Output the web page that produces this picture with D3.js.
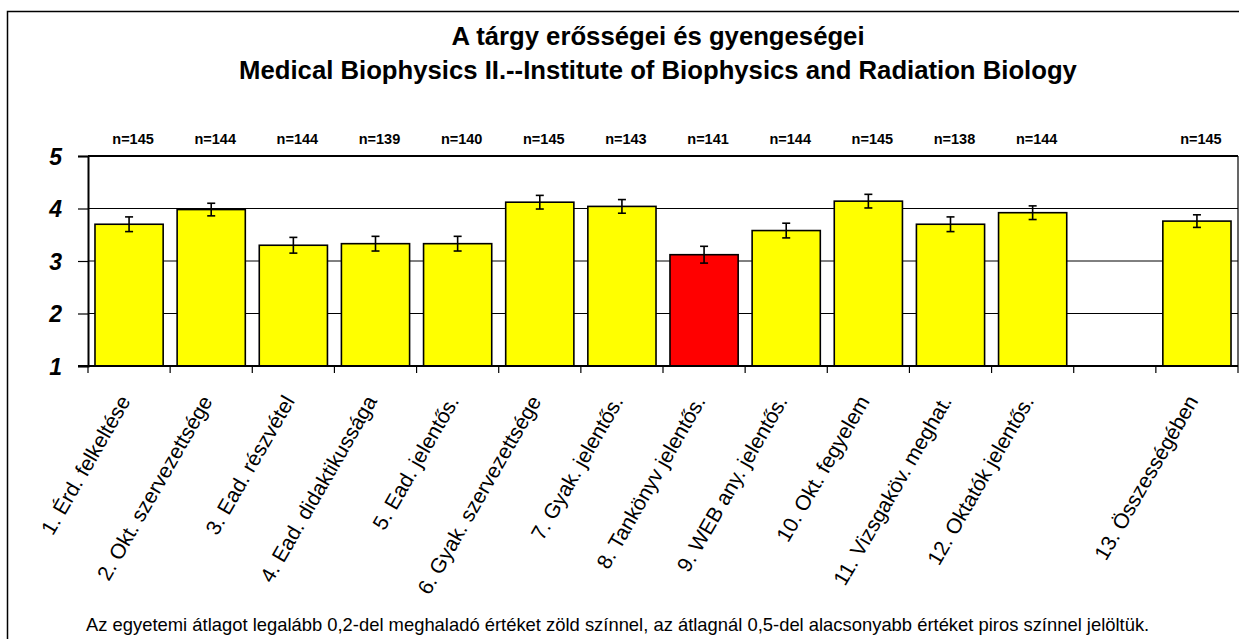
<!DOCTYPE html>
<html>
<head>
<meta charset="utf-8">
<script src="https://cdn.jsdelivr.net/npm/d3@7"></script>
<style>
  html, body { margin: 0; padding: 0; background: #fff; }
  svg { display: block; font-family: "Liberation Sans", Arial, sans-serif; }
</style>
</head>
<body>
<svg id="chart" width="1239" height="639"></svg>
<script>
// ---- data ----
const categories = [
  "1. Érd. felkeltése",
  "2. Okt. szervezettsége",
  "3. Ead. részvétel",
  "4. Ead. didaktikussága",
  "5. Ead. jelentős.",
  "6. Gyak. szervezettsége",
  "7. Gyak. jelentős.",
  "8. Tankönyv jelentős.",
  "9. WEB any. jelentős.",
  "10. Okt. fegyelem",
  "11. Vizsgaköv. meghat.",
  "12. Oktatók jelentős.",
  "",
  "13. Összességében"
];
const means  = [3.70, 3.98, 3.30, 3.33, 3.33, 4.12, 4.04, 3.12, 3.58, 4.14, 3.70, 3.92, null, 3.76];
const errors = [0.14, 0.12, 0.15, 0.14, 0.14, 0.13, 0.13, 0.16, 0.14, 0.13, 0.14, 0.13, null, 0.12];
const counts = [145, 144, 144, 139, 140, 145, 143, 141, 144, 145, 138, 144, null, 145];
const status = ["avg","avg","avg","avg","avg","avg","avg","low","avg","avg","avg","avg", null, "avg"];
const yTicks = [1, 2, 3, 4, 5];
const titleLines = [
  "A tárgy erősségei és gyengeségei",
  "Medical Biophysics II.--Institute of Biophysics and Radiation Biology"
];
const footnote = "Az egyetemi átlagot legalább 0,2-del meghaladó értéket zöld színnel, az átlagnál 0,5-del alacsonyabb értéket piros színnel jelöltük.";

// ---- layout ----
const svg = d3.select("#chart");
const plot = { left: 88, right: 1238, top: 156, bottom: 366 };
const statusColor = { avg: "#FFFF00", low: "#FF0000", high: "#00FF00" };

const x = d3.scaleBand()
  .domain(d3.range(categories.length))
  .range([plot.left, plot.right])
  .paddingInner(0.17)
  .paddingOuter(0.085);
const y = d3.scaleLinear().domain([1, 5]).range([plot.bottom, plot.top]);

// outer frame
svg.append("rect")
  .attr("x", 7.5).attr("y", 11.5)
  .attr("width", 1260).attr("height", 660)
  .attr("fill", "none").attr("stroke", "#000").attr("stroke-width", 1.5);

// title
svg.append("g").selectAll("text").data(titleLines).join("text")
  .attr("x", 658)
  .attr("y", (d, i) => 45 + i * 34)
  .attr("text-anchor", "middle")
  .attr("font-size", 25.7)
  .attr("font-weight", "bold")
  .text(d => d);

// gridlines
svg.append("g").selectAll("line").data(yTicks.filter(t => t > 1)).join("line")
  .attr("x1", plot.left).attr("x2", plot.right)
  .attr("y1", d => y(d)).attr("y2", d => y(d))
  .attr("stroke", "#000").attr("stroke-width", d => d === 5 ? 2 : 1);

// right border
svg.append("line")
  .attr("x1", plot.right).attr("x2", plot.right)
  .attr("y1", plot.top).attr("y2", plot.bottom)
  .attr("stroke", "#000").attr("stroke-width", 1.2);

// y axis
const yAxis = d3.axisLeft(y).tickValues(yTicks).tickSize(10).tickPadding(18).tickFormat(d3.format("d"));
const gy = svg.append("g").attr("transform", `translate(${plot.left},0)`).call(yAxis);
gy.select(".domain").attr("stroke", "#000").attr("stroke-width", 2);
gy.selectAll(".tick line").attr("stroke", "#000").attr("stroke-width", 1.2);
gy.selectAll(".tick text")
  .attr("font-family", "'Liberation Sans', Arial, sans-serif")
  .attr("font-size", 23).attr("font-weight", "bold").attr("font-style", "italic")
  .attr("fill", "#000").attr("dy", "0.36em").attr("x", -26);

// bars
const idx = d3.range(categories.length).filter(i => means[i] != null);
svg.append("g").selectAll("rect").data(idx).join("rect")
  .attr("x", i => x(i))
  .attr("y", i => y(means[i]))
  .attr("width", x.bandwidth())
  .attr("height", i => y(1) - y(means[i]))
  .attr("fill", i => statusColor[status[i]])
  .attr("stroke", "#000").attr("stroke-width", 1.6);

// x axis (bottom line + ticks at slot boundaries)
const step = x.step();
const boundaries = d3.range(categories.length + 1).map(k => plot.left + k * step);
svg.append("line")
  .attr("x1", plot.left - 10).attr("x2", plot.right)
  .attr("y1", plot.bottom).attr("y2", plot.bottom)
  .attr("stroke", "#000").attr("stroke-width", 2);
svg.append("g").selectAll("line").data(boundaries).join("line")
  .attr("x1", d => d).attr("x2", d => d)
  .attr("y1", plot.bottom).attr("y2", plot.bottom + 7)
  .attr("stroke", "#000").attr("stroke-width", 1.2);

// error bars
const eb = svg.append("g").attr("stroke", "#000").attr("stroke-width", 1.6);
idx.forEach(i => {
  const cx = x(i) + x.bandwidth() / 2;
  const lo = y(means[i] - errors[i]), hi = y(means[i] + errors[i]);
  eb.append("line").attr("x1", cx).attr("x2", cx).attr("y1", lo).attr("y2", hi);
  eb.append("line").attr("x1", cx - 4).attr("x2", cx + 4).attr("y1", lo).attr("y2", lo);
  eb.append("line").attr("x1", cx - 4).attr("x2", cx + 4).attr("y1", hi).attr("y2", hi);
});

// n labels
svg.append("g").selectAll("text").data(idx).join("text")
  .attr("x", i => x(i) + x.bandwidth() / 2 + 4)
  .attr("y", 144)
  .attr("text-anchor", "middle")
  .attr("font-size", 14.5).attr("font-weight", "bold")
  .text(i => "n=" + counts[i]);

// x labels
svg.append("g").selectAll("text").data(d3.range(categories.length)).join("text")
  .attr("transform", i => `translate(${x(i) + x.bandwidth() / 2 + 2},401) rotate(-60)`)
  .attr("text-anchor", "end")
  .attr("font-size", 21)
  .text(i => categories[i]);

// footnote
svg.append("text")
  .attr("x", 86).attr("y", 631)
  .attr("font-size", 18.4)
  .text(footnote);
</script>
</body>
</html>
